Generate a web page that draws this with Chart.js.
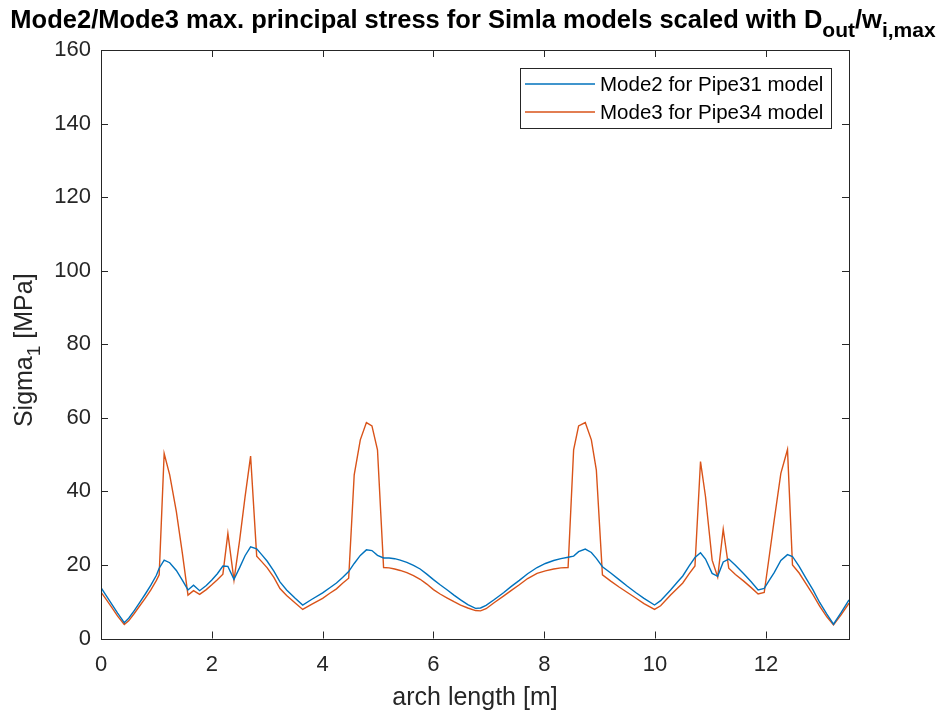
<!DOCTYPE html>
<html>
<head>
<meta charset="utf-8">
<script src="https://cdn.jsdelivr.net/npm/chart.js@4.4.0/dist/chart.umd.min.js"></script>
<style>
  html, body { margin: 0; padding: 0; background: #ffffff; }
  #wrap { width: 938px; height: 716px; }
</style>
</head>
<body>
<div id="wrap"><canvas id="c" width="938" height="716"></canvas></div>
<script>
// Arch length along the pipe [m]
const archLength = [
  0.00, 0.10, 0.20, 0.30, 0.42, 0.50, 0.60, 0.70, 0.80, 0.90,
  1.00, 1.05, 1.14, 1.24, 1.36, 1.47, 1.57, 1.67, 1.78, 1.90,
  2.00, 2.10, 2.20, 2.29, 2.40, 2.50, 2.60, 2.70, 2.81, 2.90,
  3.00, 3.12, 3.23, 3.35, 3.50, 3.64, 3.80, 4.00, 4.13, 4.25,
  4.36, 4.47, 4.57, 4.68, 4.79, 4.89, 4.99, 5.10, 5.20, 5.30,
  5.40, 5.52, 5.64, 5.76, 5.88, 6.00, 6.12, 6.25, 6.37, 6.49,
  6.62, 6.76, 6.85, 6.95, 7.10, 7.27, 7.40, 7.55, 7.70, 7.87,
  8.02, 8.17, 8.30, 8.43, 8.53, 8.62, 8.74, 8.85, 8.94, 9.05,
  9.20, 9.35, 9.50, 9.65, 9.80, 9.99, 10.10, 10.28, 10.40, 10.50,
  10.61, 10.72, 10.82, 10.91, 11.03, 11.13, 11.23, 11.33, 11.45, 11.60,
  11.73, 11.86, 11.97, 12.06, 12.15, 12.27, 12.39, 12.48, 12.60, 12.72,
  12.85, 12.97, 13.10, 13.22, 13.36, 13.50
];

// Max. principal stress, Mode2 for Pipe31 model [MPa]
const mode2Pipe31 = [
  13.8, 11.5, 9.2, 6.9, 4.3, 5.5, 7.6, 9.8, 12.1, 14.5,
  17.2, 19.1, 21.3, 20.6, 18.5, 15.8, 13.2, 14.5, 13.0, 14.4,
  15.9, 17.6, 19.7, 19.6, 16.1, 19.2, 22.5, 24.9, 24.4, 22.8,
  21.0, 18.3, 15.4, 13.2, 11.0, 9.1, 10.6, 12.4, 13.8, 15.1,
  16.6, 18.2, 20.4, 22.6, 24.1, 23.9, 22.6, 21.9, 21.9, 21.7,
  21.3, 20.7, 19.9, 18.9, 17.5, 16.0, 14.6, 13.2, 11.8, 10.5,
  9.2, 8.2, 8.3, 9.0, 10.6, 12.5, 14.1, 15.8, 17.6, 19.3,
  20.4, 21.2, 21.7, 22.1, 22.4, 23.6, 24.3, 23.4, 21.8, 19.5,
  17.8, 16.0, 14.2, 12.5, 10.9, 9.1, 10.3, 13.2, 15.3, 17.0,
  19.6, 22.0, 23.3, 21.6, 17.7, 16.9, 20.8, 21.6, 19.9, 17.6,
  15.5, 13.2, 13.6, 15.8, 17.9, 21.2, 22.8, 22.3, 19.6, 16.5,
  13.2, 9.8, 6.6, 3.9, 7.1, 10.5
];

// Max. principal stress, Mode3 for Pipe34 model [MPa]
const mode3Pipe34 = [
  12.6, 10.5, 8.3, 6.1, 3.8, 4.8, 6.8, 8.9, 11.0, 13.2,
  15.8, 17.3, 50.3, 44.5, 34.5, 23.0, 11.8, 13.0, 12.0, 13.3,
  14.6, 16.0, 17.5, 28.6, 15.9, 26.5, 38.5, 49.6, 22.4, 20.9,
  19.2, 16.6, 13.6, 11.7, 9.7, 7.9, 9.3, 10.9, 12.3, 13.5,
  15.0, 16.4, 44.5, 54.0, 58.7, 57.8, 51.3, 19.3, 19.2, 18.9,
  18.5, 17.9, 17.1, 16.1, 14.8, 13.3, 12.1, 11.0, 10.0, 9.1,
  8.3, 7.6, 7.5, 8.1, 9.8, 11.6, 13.0, 14.6, 16.3, 17.7,
  18.4, 18.9, 19.2, 19.3, 51.3, 57.8, 58.7, 54.0, 45.8, 17.3,
  15.6, 14.0, 12.5, 11.0, 9.5, 7.9, 8.9, 11.8, 13.6, 15.1,
  17.5, 19.7, 48.1, 38.6, 21.3, 16.7, 29.7, 19.1, 17.4, 15.6,
  13.9, 12.1, 12.5, 22.3, 32.2, 44.9, 51.4, 20.0, 17.8, 15.0,
  11.9, 8.8, 5.9, 3.7, 6.5, 9.6
];

const xTicks = [0, 2, 4, 6, 8, 10, 12];
const yTicks = [0, 20, 40, 60, 80, 100, 120, 140, 160];
const seriesNames = ['Mode2 for Pipe31 model', 'Mode3 for Pipe34 model'];
const seriesColors = ['#0072BD', '#D95319'];

// Rich text pieces: [text, isSubscript]
const titlePieces = [
  ['Mode2/Mode3 max. principal stress for Simla models scaled with D', false],
  ['out', true],
  ['/w', false],
  ['i,max', true]
];
const yLabelPieces = [['Sigma', false], ['1', true], [' [MPa]', false]];
const xLabelText = 'arch length [m]';

const FONT = '"Liberation Sans", Arial, Helvetica, sans-serif';
const AXIS_COLOR = '#262626';

function pairs(xs, ys) {
  return xs.map((x, i) => ({ x: x, y: ys[i] }));
}

function measurePieces(ctx, pieces, size, subSize, weight) {
  let w = 0;
  pieces.forEach(([t, sub]) => {
    ctx.font = weight + ' ' + (sub ? subSize : size) + 'px ' + FONT;
    w += ctx.measureText(t).width;
  });
  return w;
}

function drawPieces(ctx, pieces, x, y, size, subSize, subShift, weight) {
  let cx = x;
  ctx.textAlign = 'left';
  ctx.textBaseline = 'alphabetic';
  pieces.forEach(([t, sub]) => {
    ctx.font = weight + ' ' + (sub ? subSize : size) + 'px ' + FONT;
    ctx.fillText(t, cx, sub ? y + subShift : y);
    cx += ctx.measureText(t).width;
  });
}

// Axes box, inward tick marks, title, axis labels and legend
const decorations = {
  id: 'decorations',
  afterDraw(chart) {
    const ctx = chart.ctx;
    const a = chart.chartArea;
    const xs = chart.scales.x, ys = chart.scales.y;
    ctx.save();

    // box and ticks
    ctx.strokeStyle = AXIS_COLOR;
    ctx.lineWidth = 1;
    ctx.strokeRect(Math.round(a.left) + 0.5, Math.round(a.top) + 0.5,
                   Math.round(a.right - a.left), Math.round(a.bottom - a.top));
    const tl = 7;
    ctx.beginPath();
    xTicks.forEach(v => {
      const px = Math.round(xs.getPixelForValue(v)) + 0.5;
      ctx.moveTo(px, a.bottom); ctx.lineTo(px, a.bottom - tl);
      ctx.moveTo(px, a.top); ctx.lineTo(px, a.top + tl);
    });
    yTicks.forEach(v => {
      const py = Math.round(ys.getPixelForValue(v)) + 0.5;
      ctx.moveTo(a.left, py); ctx.lineTo(a.left + tl, py);
      ctx.moveTo(a.right, py); ctx.lineTo(a.right - tl, py);
    });
    ctx.stroke();

    ctx.fillStyle = '#000000';
    // title
    const tSize = 25.5, tSub = 21;
    const tw = measurePieces(ctx, titlePieces, tSize, tSub, 'bold');
    drawPieces(ctx, titlePieces, (a.left + a.right) / 2 - tw / 2 - 2, 28, tSize, tSub, 9, 'bold');

    // x label
    ctx.fillStyle = AXIS_COLOR;
    ctx.font = '25px ' + FONT;
    ctx.textAlign = 'center';
    ctx.textBaseline = 'alphabetic';
    ctx.fillText(xLabelText, (a.left + a.right) / 2, 705);

    // y label (rotated)
    const lSize = 25, lSub = 19;
    const lw = measurePieces(ctx, yLabelPieces, lSize, lSub, 'normal');
    ctx.save();
    ctx.translate(32, (a.top + a.bottom) / 2 + 6);
    ctx.rotate(-Math.PI / 2);
    drawPieces(ctx, yLabelPieces, -lw / 2, 0, lSize, lSub, 8, 'normal');
    ctx.restore();

    // legend
    const fs = 20.5;
    ctx.font = fs + 'px ' + FONT;
    const textW = Math.max(...seriesNames.map(s => ctx.measureText(s).width));
    const boxW = Math.round(80 + textW + 8);
    const boxRight = Math.round(a.right) - 18;
    const boxLeft = boxRight - boxW;
    const boxTop = Math.round(a.top) + 18;
    const boxH = 60;
    ctx.fillStyle = '#ffffff';
    ctx.fillRect(boxLeft, boxTop, boxW, boxH);
    ctx.strokeStyle = AXIS_COLOR;
    ctx.lineWidth = 1;
    ctx.strokeRect(boxLeft + 0.5, boxTop + 0.5, boxW, boxH);
    seriesNames.forEach((name, i) => {
      const ly = boxTop + 16 + i * 28;
      ctx.strokeStyle = seriesColors[i];
      ctx.lineWidth = 1.3;
      ctx.beginPath();
      ctx.moveTo(boxLeft + 5, ly);
      ctx.lineTo(boxLeft + 75, ly);
      ctx.stroke();
      ctx.fillStyle = '#000000';
      ctx.textAlign = 'left';
      ctx.textBaseline = 'middle';
      ctx.fillText(name, boxLeft + 80, ly + 1);
    });
    ctx.restore();
  }
};

new Chart(document.getElementById('c'), {
  type: 'line',
  data: {
    datasets: [
      {
        label: seriesNames[0],
        data: pairs(archLength, mode2Pipe31),
        borderColor: seriesColors[0],
        borderWidth: 1.4,
        pointRadius: 0,
        tension: 0,
        fill: false
      },
      {
        label: seriesNames[1],
        data: pairs(archLength, mode3Pipe34),
        borderColor: seriesColors[1],
        borderWidth: 1.4,
        pointRadius: 0,
        tension: 0,
        fill: false
      }
    ]
  },
  options: {
    responsive: false,
    animation: false,
    devicePixelRatio: 1,
    layout: { padding: { left: 41, right: 89, top: 50, bottom: 32.5 } },
    plugins: {
      legend: { display: false },
      title: { display: false },
      tooltip: { enabled: false }
    },
    scales: {
      x: {
        type: 'linear',
        min: 0,
        max: 13.5,
        grid: { display: false, drawTicks: false },
        border: { display: false },
        afterBuildTicks: s => { s.ticks = xTicks.map(v => ({ value: v })); },
        afterFit: s => { s.height = 45; },
        ticks: {
          color: AXIS_COLOR,
          font: { family: FONT, size: 22 },
          padding: 13,
          maxRotation: 0,
          autoSkip: false
        }
      },
      y: {
        type: 'linear',
        min: 0,
        max: 160,
        grid: { display: false, drawTicks: false },
        border: { display: false },
        afterBuildTicks: s => { s.ticks = yTicks.map(v => ({ value: v })); },
        afterFit: s => { s.width = 60; },
        ticks: {
          color: AXIS_COLOR,
          font: { family: FONT, size: 22 },
          padding: 10,
          autoSkip: false
        }
      }
    }
  },
  plugins: [decorations]
});
</script>
</body>
</html>
